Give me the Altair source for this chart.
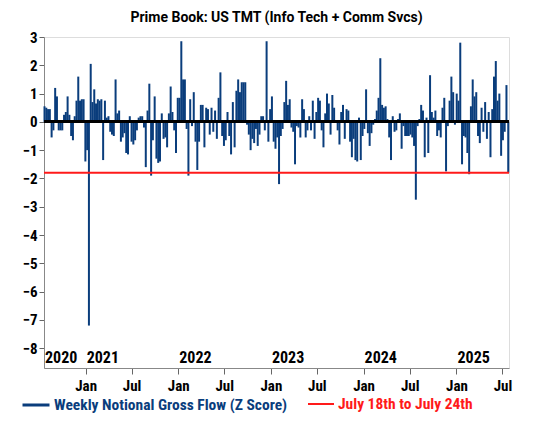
import altair as alt
import pandas as pd

# ---- data ----
flow_values = [
    0.55, 0.5, 0.45, 0.45, -0.55, -0.3, 1.2, 0.9, -0.3, -0.3,
    -0.3, 0.25, 0.35, 0.9, 0.25, -0.5, -0.65, 0.2, 0.75, 1.6,
    0.75, 0.8, 0.8, -1.4, -1.0, -7.2, 2.05, 0.7, 1.15, 0.65,
    0.8, 0.75, 0.8, -1.35, 0.75, 0.15, 0.2, -0.35, -0.45, -0.5,
    1.5, 0.3, 0.4, -0.7, -0.55, -0.4, -1.1, -1.15, 0.2, -0.7,
    -0.8, -0.65, -0.3, 0.15, 0.2, 0.2, -0.2, -1.6, 0.4, 1.35,
    -1.9, -0.65, 0.9, -1.3, -1.45, -1.4, 0.3, -0.6, -0.55, -0.9,
    0.3, 1.25, 0.35, -0.3, -1.1, 0.85, 0.85, 2.85, 1.5, 1.5,
    -0.25, -1.9, 0.8, -0.15, 1.05, -0.7, -1.7, -0.7, 0.6, 0.6,
    -0.9, 0.5, 0.45, -0.45, 0.5, -0.35, 0.4, -0.6, 0.85, 1.75,
    -0.5, -0.85, -0.65, 0.35, -0.5, -1.15, 0.7, -0.9, 1.1,
    1.5, 1.05, 1.4, 1.4, 1.4, -0.1, -0.45, -1.0, -0.6, -0.75,
    -0.25, -0.85, -0.45, 0.2, 0.2, -0.3, 2.85, -0.7, 0.45, 0.9,
    -0.7, -0.95, -0.55, -2.2, -0.5, -0.25, 0.7, 1.45, 0.6, 0.8,
    -0.2, -0.35, -1.5, -0.15, -0.2, -0.55, 0.8, 0.45, -0.55, -0.3,
    0.2, -0.3, 0.75, -0.6, 0.35, 0.85, 0.75, -0.3, -0.9,
    0.3, 1.0, 0.65, -0.45, 0.95, 0.5, 0.05, -0.3, -0.8, 0.35,
    0.6, -0.6, 0.45, 0.4, -0.7, -1.25, -0.6, -1.35, -1.4, 0.15,
    -1.35, -0.5, -0.25, 1.15, -0.4, -0.85, -0.4, -0.1, 0.1, 0.4,
    0.85, 2.25, 0.6, 0.5, 0.55, 0.1, -0.55, -1.35, 0.2, -0.35,
    -0.3, 0.1, 0.3, -0.95, -0.15, -0.5, -0.5, -0.5, -0.45, -0.55,
    -0.85, -2.75, -0.15, 0.1, 0.6, 0.4, -1.25, 0.15, -1.1, 1.65,
    0.35, 0.15, 0.4, -0.5, -0.3, -0.55, 0.5, 0.85, -1.75,
    -0.15, 0.75, 1.6, 1.05, -0.1, 1.0, 0.75, 2.8, -1.5,
    -0.5, -0.55, -1.1, -1.85, 0.55, 1.5, 0.9, 1.05, -0.5, -0.75,
    0.5, -0.35, 0.7, -0.6, 0.35, -1.25, 0.45, 1.6, 2.15, 0.75,
    1.0, -1.2, -0.65, -0.35, 1.3, -1.8,
]
last_week = "2025-07-24"
red_level = -1.8
flow_label = "Weekly Notional Gross Flow (Z Score)"
red_label = "July 18th to July 24th"
year_labels = ["2020", "2021", "2022", "2023", "2024", "2025"]
year_dates = ["2020-07-21", "2021-01-01", "2022-01-01", "2023-01-01", "2024-01-01", "2025-01-01"]
x_domain = ["2020-07-21", "2025-07-27"]
month_ticks = [(y, m) for y in range(2021, 2026) for m in (1, 7)]
y_ticks = list(range(-8, 4))
y_domain = [-8.7, 3]
title_text = "Prime Book: US TMT (Info Tech + Comm Svcs)"

BLUE = "#0a3d7c"
RED = "#ff1a1a"
NARROW = "Liberation Sans Narrow, Roboto Condensed, DejaVu Sans Condensed, Arial Narrow, sans-serif"

dates = pd.date_range(end=pd.Timestamp(last_week), periods=len(flow_values), freq="7D")
df = pd.DataFrame({"date": dates.strftime("%Y-%m-%d"), "value": flow_values, "series": flow_label})
red_df = pd.DataFrame({"value": [red_level], "series": [red_label]})
year_df = pd.DataFrame({"date": year_dates, "label": year_labels})

x_scale = alt.Scale(domain=x_domain, padding=0)
y_scale = alt.Scale(domain=y_domain, nice=False, zero=False, padding=0)

x_axis = alt.Axis(
    values=[alt.DateTime(year=y, month=m, date=1) for y, m in month_ticks],
    format="%b",
    labelFont=NARROW,
    labelFontSize=15,
    labelFontWeight="bold",
    labelColor="black",
    tickSize=6,
    tickColor="#666",
    domainColor="#888",
    labelPadding=4,
    grid=False,
    labelFlush=False,
    title=None,
)
y_axis = alt.Axis(
    values=y_ticks,
    labelFont=NARROW,
    labelFontSize=15,
    labelFontWeight="bold",
    labelColor="black",
    labelOverlap=False,
    tickSize=5,
    tickColor="#666",
    domainColor="#888",
    labelPadding=2,
    grid=False,
    title=None,
)

legend_common = dict(
    orient="none",
    legendY=353,
    title=None,
    symbolType="stroke",
    labelFont=NARROW,
    labelFontSize=15.5,
    labelFontWeight="bold",
    labelOffset=3,
    labelLimit=400,
)

bars = alt.Chart(df).mark_bar(size=2).encode(
    x=alt.X("date:T", scale=x_scale, axis=x_axis),
    y=alt.Y("value:Q", scale=y_scale, axis=y_axis),
    color=alt.Color(
        "series:N",
        scale=alt.Scale(range=[BLUE]),
        legend=alt.Legend(
            legendX=-23,
            symbolStrokeColor=BLUE,
            symbolStrokeWidth=3,
            symbolSize=729,
            labelColor=BLUE,
            **legend_common,
        ),
    ),
)

zero_line = alt.Chart(df).mark_rule(color="black", strokeWidth=2).encode(
    y=alt.Y(datum=0, scale=y_scale, axis=y_axis)
)

red_line = alt.Chart(red_df).mark_rule(strokeWidth=2).encode(
    y=alt.Y("value:Q", scale=y_scale, axis=y_axis),
    color=alt.Color(
        "series:N",
        scale=alt.Scale(range=[RED]),
        legend=alt.Legend(
            legendX=263,
            symbolStrokeColor=RED,
            symbolStrokeWidth=2,
            symbolSize=676,
            labelColor=RED,
            **legend_common,
        ),
    ),
)

years = alt.Chart(year_df).mark_text(
    align="left", baseline="bottom", dx=1, dy=-2,
    font=NARROW, fontSize=16, fontWeight="bold", color="black",
).encode(
    x=alt.X("date:T", scale=x_scale, axis=x_axis),
    y=alt.Y(datum=y_domain[0], scale=y_scale, axis=y_axis),
    text="label:N",
)

chart = (
    alt.layer(bars, zero_line, red_line, years)
    .resolve_scale(color="independent")
    .properties(
        width=465,
        height=331,
        autosize=alt.AutoSizeParams(type="none"),
        padding={"left": 36, "top": 29, "right": 33, "bottom": 69},
        title=alt.Title(
            title_text, font="Roboto", fontSize=14, fontWeight="bold",
            color="black", offset=5, anchor="middle",
        ),
    )
    .configure_view(stroke="#777", strokeWidth=1)
    .configure(background="white")
)

chart.save("out.html", embed_options={"renderer": "svg", "actions": False})
